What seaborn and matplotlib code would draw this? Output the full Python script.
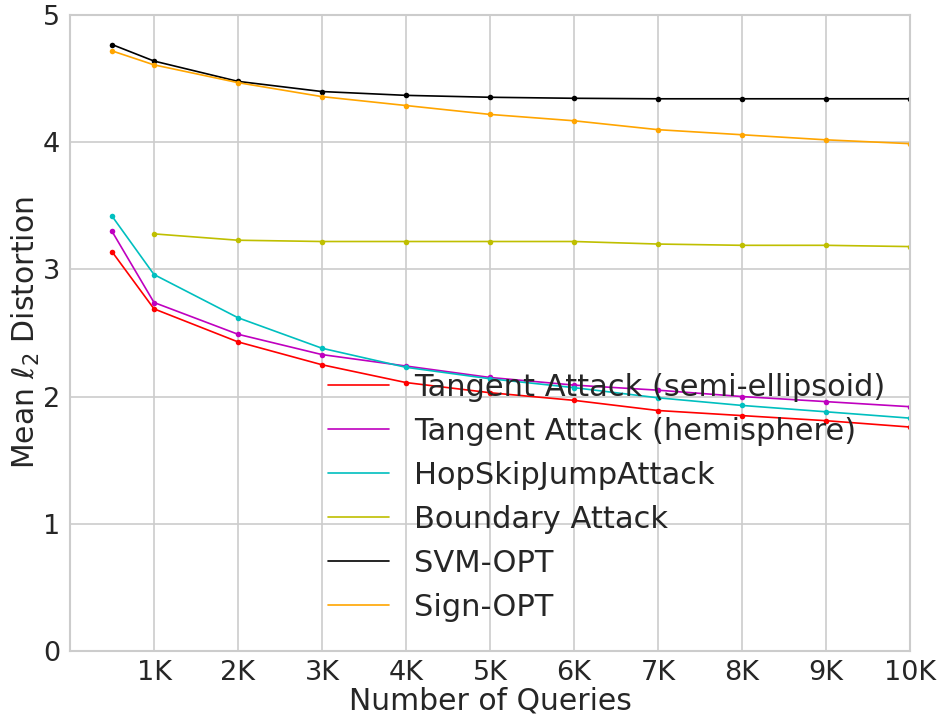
import numpy as np
import pandas as pd
import matplotlib
matplotlib.use("Agg")
import matplotlib.pyplot as plt
from matplotlib.lines import Line2D
import seaborn as sns

queries = [500, 1000, 2000, 3000, 4000, 5000, 6000, 7000, 8000, 9000, 10000]
queries_boundary = [1000, 2000, 3000, 4000, 5000, 6000, 7000, 8000, 9000, 10000]

tangent_semi = [3.14, 2.69, 2.43, 2.25, 2.11, 2.03, 1.97, 1.89, 1.85, 1.81, 1.76]
tangent_hemi = [3.30, 2.74, 2.49, 2.33, 2.24, 2.15, 2.09, 2.05, 2.00, 1.96, 1.92]
hsja = [3.42, 2.96, 2.62, 2.38, 2.23, 2.14, 2.07, 1.99, 1.93, 1.88, 1.83]
boundary = [3.28, 3.23, 3.22, 3.22, 3.22, 3.22, 3.20, 3.19, 3.19, 3.18]
svm_opt = [4.77, 4.64, 4.48, 4.40, 4.37, 4.355, 4.347, 4.343, 4.343, 4.343, 4.343]
sign_opt = [4.72, 4.61, 4.47, 4.36, 4.29, 4.22, 4.17, 4.10, 4.06, 4.02, 3.99]

series_names = ["Tangent Attack (semi-ellipsoid)", "Tangent Attack (hemisphere)",
                "HopSkipJumpAttack", "Boundary Attack", "SVM-OPT", "Sign-OPT"]
series_x = [queries, queries, queries, queries_boundary, queries, queries]
series_y = [tangent_semi, tangent_hemi, hsja, boundary, svm_opt, sign_opt]
series_colors = ["r", "m", "c", "y", "k", "orange"]

xtick_vals = [1000, 2000, 3000, 4000, 5000, 6000, 7000, 8000, 9000, 10000]
xtick_labels = ["1K", "2K", "3K", "4K", "5K", "6K", "7K", "8K", "9K", "10K"]
ytick_vals = [0, 1, 2, 3, 4, 5]

sns.set_style("whitegrid")
plt.rcParams["font.family"] = ["DejaVu Sans"]

fig = plt.figure(figsize=(9.43, 7.19), dpi=100)
ax = fig.add_axes([70 / 943, (719 - 650.7) / 719, 840 / 943, 635.4 / 719])

rows = []
for name, xs, ys in zip(series_names, series_x, series_y):
    for xv, yv in zip(xs, ys):
        rows.append({"Queries": xv, "Distortion": yv, "Method": name})
df = pd.DataFrame(rows)

palette = dict(zip(series_names, series_colors))
sns.lineplot(data=df, x="Queries", y="Distortion", hue="Method",
             hue_order=series_names, palette=palette, marker="o",
             markersize=4, markeredgewidth=0, linewidth=1.2,
             legend=False, ax=ax)

ax.set_xlim(0, 10000)
ax.set_ylim(0, 5)
ax.set_xticks(xtick_vals)
ax.set_xticklabels(xtick_labels)
ax.set_yticks(ytick_vals)
ax.tick_params(axis="both", labelsize=19.5, colors="#262626", pad=3.5)
ax.set_xlabel("Number of Queries", fontsize=21.5, color="#262626", labelpad=0)
ax.set_ylabel(r"Mean $\ell_2$ Distortion", fontsize=21.5, color="#262626", labelpad=0.5)
ax.grid(True, color="#cccccc", linewidth=1.2)
for sp in ax.spines.values():
    sp.set_color("#cccccc")
    sp.set_linewidth(1.5)

handles = [Line2D([0], [0], color=c, linewidth=1.2) for c in series_colors]
leg = ax.legend(handles, series_names, loc="lower left",
                bbox_to_anchor=(0.293, 0.026), frameon=False,
                fontsize=22, labelspacing=0.49, handlelength=2.0,
                handletextpad=0.8, borderaxespad=0.0)
for t in leg.get_texts():
    t.set_color("#262626")

fig.savefig("out.png", dpi=100)
